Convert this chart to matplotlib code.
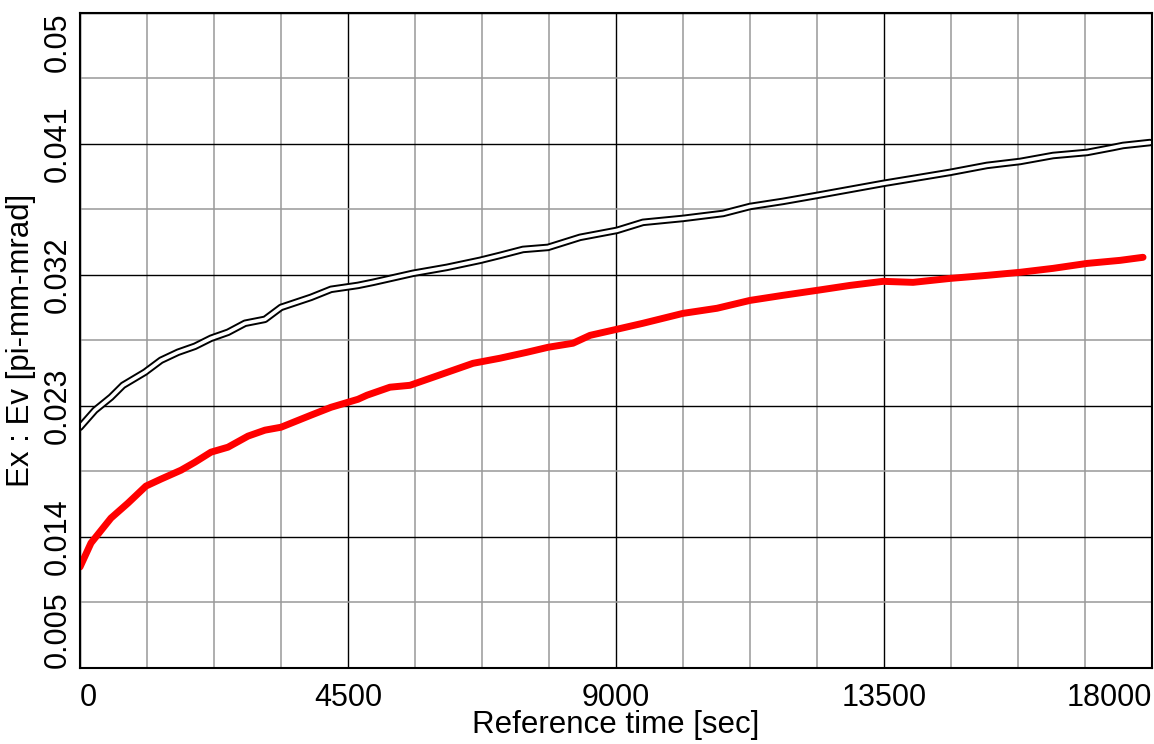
import matplotlib
matplotlib.use("Agg")
import matplotlib.pyplot as plt
import numpy as np
from matplotlib.ticker import FixedLocator

plt.rcParams['font.family'] = ['Liberation Sans', 'DejaVu Sans']

# Ex emittance (black, open circles)
t_ex = [0, 252, 520, 722, 1091, 1360, 1646, 1931, 2200, 2485, 2771, 3106, 3375,
        3879, 4215, 4668, 4920, 5591, 6162, 6716, 7052, 7438, 7858, 8396, 9017,
        9453, 10125, 10797, 11250, 11804, 12375, 12929, 13483, 13987, 14608,
        15229, 15784, 16338, 16909, 17345, 17513, 17966]
ex = [0.02153, 0.02270, 0.02359, 0.02441, 0.02531, 0.02613, 0.02668, 0.02709,
      0.02764, 0.02805, 0.02867, 0.02894, 0.02976, 0.03045, 0.03100, 0.03127,
      0.03148, 0.03210, 0.03251, 0.03299, 0.03333, 0.03374, 0.03388, 0.03457,
      0.03505, 0.03560, 0.03587, 0.03621, 0.03669, 0.03704, 0.03745, 0.03786,
      0.03827, 0.03861, 0.03903, 0.03951, 0.03978, 0.04019, 0.04040, 0.04074,
      0.04088, 0.04108]

# Ev emittance (red)
t_ev = [0, 185, 520, 806, 1108, 1360, 1696, 1931, 2200, 2485, 2821, 3106, 3375,
        3879, 4215, 4668, 4819, 5205, 5541, 5927, 6263, 6599, 7052, 7506, 7858,
        8278, 8564, 9017, 9453, 10125, 10696, 11250, 11804, 12375, 12929, 13483,
        13987, 14608, 15229, 15784, 16338, 16909, 17463, 17849]
ev = [0.01193, 0.01358, 0.01529, 0.01632, 0.01749, 0.01797, 0.01858, 0.01913,
      0.01982, 0.02016, 0.02092, 0.02133, 0.02153, 0.02236, 0.02290, 0.02345,
      0.02373, 0.02428, 0.02441, 0.02496, 0.02544, 0.02592, 0.02627, 0.02668,
      0.02702, 0.02730, 0.02784, 0.02826, 0.02867, 0.02935, 0.02970, 0.03024,
      0.03059, 0.03093, 0.03127, 0.03155, 0.03148, 0.03175, 0.03196, 0.03217,
      0.03244, 0.03278, 0.03299, 0.03320]

xticks = [0, 4500, 9000, 13500, 18000]
xtick_labels = ['0', '4500', '9000', '13500', '18000']
yticks = [0.005, 0.014, 0.023, 0.032, 0.041, 0.05]
ytick_labels = ['0.005', '0.014', '0.023', '0.032', '0.041', '0.05']

fig = plt.figure(figsize=(11.54, 7.44), dpi=100)
ax = fig.add_axes([0.0693, 0.1022, 0.9290, 0.8808])

# grid: gray minor, black major
ax.xaxis.set_minor_locator(FixedLocator(np.arange(0, 18001, 1125)))
ax.yaxis.set_minor_locator(FixedLocator(np.arange(0.005, 0.0501, 0.0045)))
ax.grid(which='minor', color='#999999', lw=1.1)
ax.grid(which='major', color='black', lw=1.0)
ax.set_axisbelow(True)

# black hollow trace (mimics dense open circles)
ax.plot(t_ex, ex, color='black', lw=5.4, solid_capstyle='round', zorder=3)
ax.plot(t_ex, ex, color='white', lw=2.6, solid_capstyle='round', zorder=4)
# red trace
ax.plot(t_ev, ev, color='red', lw=5.0, solid_capstyle='round', zorder=5)

ax.set_xlim(0, 18000)
ax.set_ylim(0.005, 0.05)
ax.set_xticks(xticks)
ax.set_xticklabels(xtick_labels)
ax.set_yticks(yticks)
ax.set_yticklabels(ytick_labels, rotation=90)
ax.tick_params(which='both', length=0, labelsize=22)
ax.tick_params(axis='y', pad=5)
ax.tick_params(axis='x', pad=11)

xl = ax.get_xticklabels()
xl[0].set_ha('left')
xl[-1].set_ha('right')
yl = ax.get_yticklabels()
for lab in yl:
    lab.set_va('center')
yl[0].set_va('bottom')
yl[-1].set_va('top')

for s in ax.spines.values():
    s.set_color('black')
    s.set_linewidth(1.5)
    s.set_zorder(6)

ax.set_xlabel('Reference time [sec]', fontsize=22.5, labelpad=-2)
ax.set_ylabel('Ex : Ev [pi-mm-mrad]', fontsize=22.5)
ax.yaxis.set_label_coords(-0.041, 0.5)

fig.savefig('out.png', dpi=100, facecolor='white')
